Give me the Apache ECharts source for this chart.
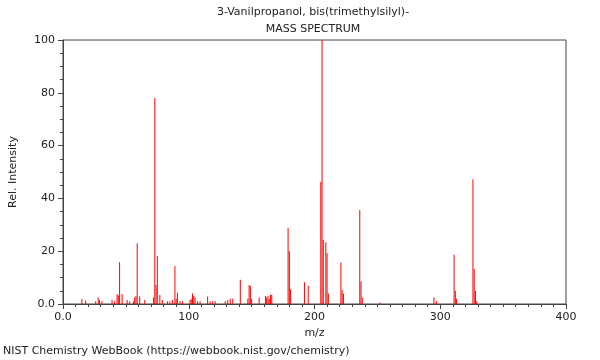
<!DOCTYPE html>
<html>
<head>
<meta charset="utf-8">
<script src="https://cdn.jsdelivr.net/npm/echarts@6/dist/echarts.min.js"></script>
<style>html,body{margin:0;padding:0;background:#fff}#c{width:600px;height:360px}</style>
</head>
<body>
<div id="c"></div>
<script>
const titleLines = ["3-Vanilpropanol, bis(trimethylsilyl)-", "MASS SPECTRUM"];
const footer = "NIST Chemistry WebBook (https://webbook.nist.gov/chemistry)";
const xName = "m/z";
const yName = "Rel. Intensity";
const mz = [15,18,26,28,29,31,39,41,43,44,45,47,51,53,56,57,58,59,61,65,72,73,74,75,77,79,83,85,87,89,90,91,93,95,101,102,103,104,105,107,109,115,117,119,121,129,131,133,135,141,147,148,149,150,156,161,162,163,164,165,166,179,180,181,192,195,205,206,207,209,210,211,221,222,223,236,237,238,252,295,297,311,312,313,326,327,328,329];
const intensity = [1.9,1.3,1,2.5,1.5,1,1.5,1,3.8,3.2,15.8,3.8,1.5,1,1,2.5,3,23,2.9,1.5,2.5,78,7.2,18.2,3.4,1.5,1,1,1.5,14.4,2,4.3,1,1,1.5,2,4,3,2.5,1,1,2.8,1,1,1,1,1.5,2,2,9.2,2,7.2,6.8,2,2.5,3,2.5,3,2,3.5,3.5,28.9,20,5.6,8.2,6.9,46.3,100,24.2,23.4,19.2,4,15.7,5.3,4,35.6,8.5,2.5,0.6,2.5,1,18.7,5,2,47.3,13.3,5,1];

const data = mz.map((m, i) => [m, intensity[i]]);
const chart = echarts.init(document.getElementById('c'), null, {renderer: 'canvas'});
const font = 'DejaVu Sans';
chart.setOption({
  animation: false,
  backgroundColor: '#fff',
  grid: {left: 61, right: 34, top: 40, bottom: 56, show: true, borderColor: '#444', borderWidth: 1},
  graphic: [
    {type: 'text', x: 313, y: 7, style: {text: titleLines[0], font: '11px "DejaVu Sans"', fill: '#222', align: 'center'}},
    {type: 'text', x: 313, y: 24, style: {text: titleLines[1], font: '11px "DejaVu Sans"', fill: '#222', align: 'center'}},
    {type: 'text', x: 3, y: 346, style: {text: footer, font: '11px "DejaVu Sans"', fill: '#222'}}
  ],
  xAxis: {
    type: 'value', min: 0, max: 400, interval: 100,
    name: xName, nameLocation: 'middle', nameGap: 23,
    nameTextStyle: {fontFamily: font, fontSize: 11, color: '#222'},
    axisLine: {show: true, lineStyle: {color: '#444'}},
    axisTick: {show: true, length: 5, lineStyle: {color: '#444'}},
    minorTick: {show: true, splitNumber: 10, length: 3, lineStyle: {color: '#444'}},
    splitLine: {show: false},
    axisLabel: {fontFamily: font, fontSize: 11, color: '#222', margin: 8, formatter: v => v === 0 ? '0.0' : String(v)}
  },
  yAxis: {
    type: 'value', min: 0, max: 100, interval: 20,
    name: yName, nameLocation: 'middle', nameGap: 44, nameRotate: 90,
    nameTextStyle: {fontFamily: font, fontSize: 11, color: '#222'},
    axisLine: {show: true, lineStyle: {color: '#444'}},
    axisTick: {show: true, length: 5, lineStyle: {color: '#444'}},
    minorTick: {show: true, splitNumber: 4, length: 3, lineStyle: {color: '#444'}},
    splitLine: {show: false},
    axisLabel: {fontFamily: font, fontSize: 11, color: '#222', margin: 8, formatter: v => v === 0 ? '0.0' : String(v)}
  },
  series: [{
    type: 'bar', data: data, barWidth: 1, itemStyle: {color: '#ff0000'}, silent: true
  }]
});
</script>
</body>
</html>
